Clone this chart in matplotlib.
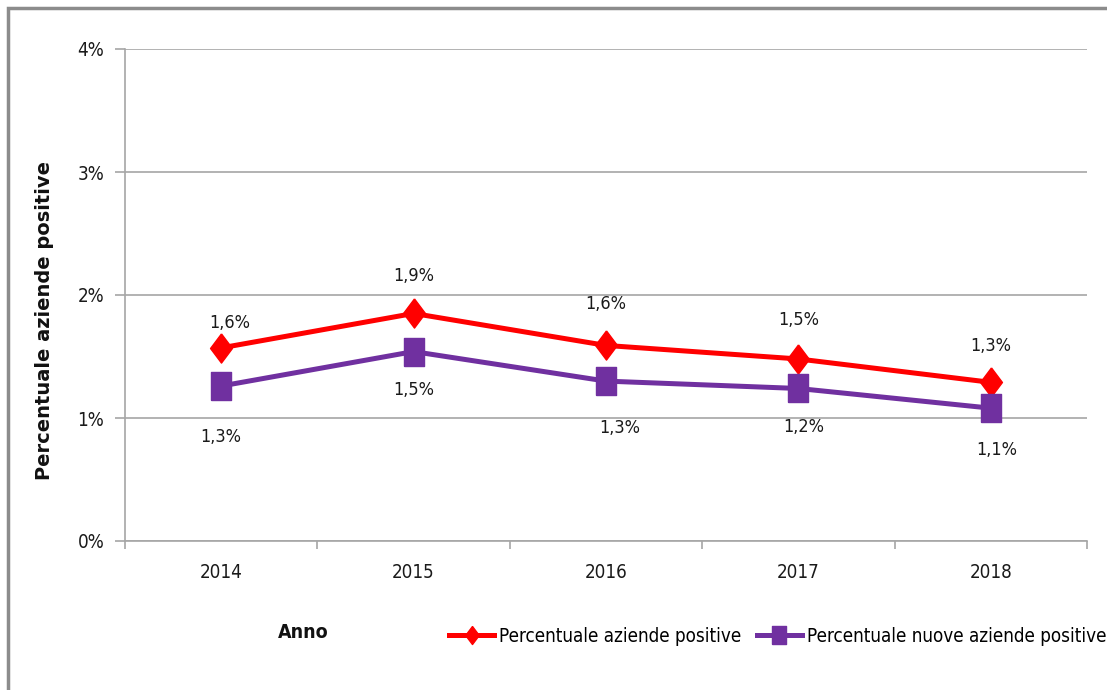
import matplotlib.pyplot as plt
from matplotlib.ticker import FuncFormatter, FixedLocator
from matplotlib.lines import Line2D
from matplotlib.patches import Rectangle

anni = ['2014', '2015', '2016', '2017', '2018']
aziende_positive = [1.57, 1.85, 1.59, 1.48, 1.29]
nuove_aziende_positive = [1.26, 1.54, 1.30, 1.24, 1.08]
etichette_positive = ['1,6%', '1,9%', '1,6%', '1,5%', '1,3%']
etichette_nuove = ['1,3%', '1,5%', '1,3%', '1,2%', '1,1%']

# label offsets (points), tuned by eye
off_rosso = [(6, 18), (0, 27), (0, 30), (0, 28), (0, 26)]
off_viola = [(0, -37), (0, -28), (10, -34), (4, -28), (4, -30)]

# tall markers (the original chart is squeezed horizontally)
diamante = [(0, 1), (0.75, 0), (0, -1), (-0.75, 0), (0, 1)]
quadrato = [(-0.74, -1), (0.74, -1), (0.74, 1), (-0.74, 1), (-0.74, -1)]

plt.rcParams['font.family'] = ['DejaVu Sans']
plt.rcParams['font.stretch'] = 'condensed'

fig = plt.figure(figsize=(11.07, 6.9), dpi=100)
ax = fig.add_axes([125/1107, 149/690, 962/1107, 492/690])

x = list(range(len(anni)))
red = '#ff0000'
purple = '#7030a0'
ax.plot(x, aziende_positive, color=red, lw=3.6, marker=diamante, ms=21, zorder=3)
ax.plot(x, nuove_aziende_positive, color=purple, lw=3.6, marker=quadrato, ms=19.5, zorder=3)

for i in x:
    ax.annotate(etichette_positive[i], (i, aziende_positive[i]), xytext=off_rosso[i],
                textcoords='offset points', ha='center', va='center', fontsize=13, color='#1a1a1a')
    ax.annotate(etichette_nuove[i], (i, nuove_aziende_positive[i]), xytext=off_viola[i],
                textcoords='offset points', ha='center', va='center', fontsize=13, color='#1a1a1a')

ax.set_xlim(-0.5, len(anni) - 0.5)
ax.set_ylim(0, 4)
ax.set_yticks([0, 1, 2, 3, 4])
ax.yaxis.set_major_formatter(FuncFormatter(lambda v, p: '%d%%' % v))
ax.yaxis.grid(True, color='#a6a6a6', lw=1.2)
ax.set_axisbelow(True)

ax.set_xticks(x)
ax.set_xticklabels(anni)
ax.xaxis.set_minor_locator(FixedLocator([i - 0.5 for i in range(len(anni) + 1)]))
ax.tick_params(axis='x', which='major', length=0, pad=16, labelsize=13.5, colors='#1a1a1a')
ax.tick_params(axis='x', which='minor', length=6, color='#a6a6a6', width=1.2)
ax.tick_params(axis='y', length=7, color='#a6a6a6', width=1.2, pad=8, labelsize=13.5, labelcolor='#1a1a1a')

for s in ['top', 'right']:
    ax.spines[s].set_visible(False)
for s in ['left', 'bottom']:
    ax.spines[s].set_color('#a6a6a6')
    ax.spines[s].set_linewidth(1.2)

fig.text(45/1107, 1 - 321/690, 'Percentuale aziende positive', rotation=90, ha='center', va='center',
         fontsize=14, fontweight='bold', fontstretch='normal', color='#111111')
fig.text(303/1107, 1 - 632/690, 'Anno', ha='center', va='center', fontsize=14,
         fontweight='bold', color='#111111')

handles = [Line2D([], [], color=red, lw=3.6, marker=diamante, ms=13),
           Line2D([], [], color=purple, lw=3.6, marker=quadrato, ms=13)]
fig.legend(handles, ['Percentuale aziende positive', 'Percentuale nuove aziende positive'],
           loc='center left', bbox_to_anchor=(449/1107, 1 - 636/690), ncol=2, frameon=False,
           fontsize=13.5, handlelength=2.4, handletextpad=0.25, columnspacing=0.85, borderaxespad=0,
           borderpad=0)

fig.patches.append(Rectangle((8/1107, -0.1), 1.2, 1 - 8/690 + 0.1, transform=fig.transFigure,
                             fill=False, edgecolor='#8c8c8c', lw=2.5))

fig.savefig('out.png', dpi=100)
